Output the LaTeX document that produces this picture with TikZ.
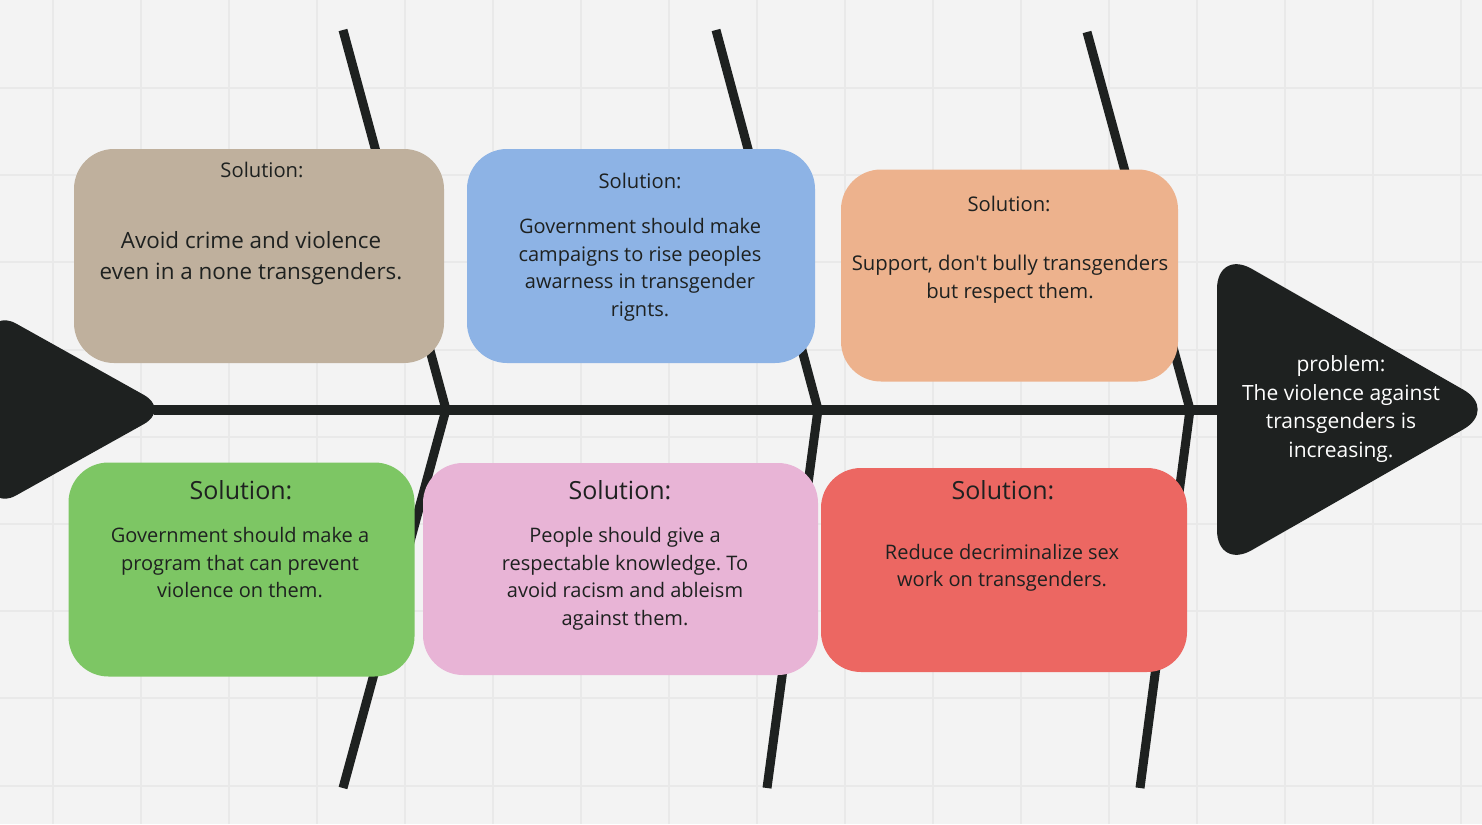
\documentclass[tikz,border=0pt]{standalone}
\usepackage{fontspec}
\setmainfont{Open Sans}
\usepackage{xcolor}
\frenchspacing
\definecolor{paper}{HTML}{F3F3F3}
\definecolor{gridline}{HTML}{E9E9E9}
\definecolor{ink}{HTML}{1E2120}
\definecolor{tanbox}{HTML}{BFB09D}
\definecolor{bluebox}{HTML}{8DB3E5}
\definecolor{peachbox}{HTML}{EDB28D}
\definecolor{greenbox}{HTML}{7DC664}
\definecolor{pinkbox}{HTML}{E8B4D6}
\definecolor{redbox}{HTML}{EC6762}

\begin{document}
\begin{tikzpicture}[x=0.5pt, y=-0.5pt,
  box/.style={rounded corners=20pt, inner sep=0pt},
  small/.style={font=\fontsize{10.1}{13}\selectfont, text=ink, align=center},
  big/.style={font=\fontsize{12.5}{15}\selectfont, text=ink, align=center},
  body/.style={font=\fontsize{10}{13.75}\selectfont, text=ink, align=center},
  bone/.style={draw=ink, line width=4.5pt}]
  \useasboundingbox[fill=paper] (0,0) rectangle (1482,824);
  \foreach \i in {0,...,16} \draw[gridline, line width=1pt] (53+88*\i,0) -- (53+88*\i,824);
  \foreach \j in {0,...,8} \draw[gridline, line width=1pt] (0,88+87.2*\j) -- (1482,88+87.2*\j);

  \coordinate (tail) at (154,409.5);
  \coordinate (head) at (1217,409.5);
  \coordinate (t1) at (343,30);
  \coordinate (j1) at (446,409.5);
  \coordinate (b1) at (343,788);
  \coordinate (t2) at (716,30);
  \coordinate (j2) at (818,409.5);
  \coordinate (b2) at (767,788);
  \coordinate (t3) at (1087,32);
  \coordinate (j3) at (1190,409.5);
  \coordinate (b3) at (1140,788);

  \fill[ink, rounded corners=15pt] (-10,309) -- (170,409.5) -- (-10,510) -- cycle;
  \fill[ink, rounded corners=20pt] (1217,249) -- (1498,409.5) -- (1217,570) -- cycle;

  \draw[bone, line width=5pt] (tail) -- (head);
  \draw[bone] (t1) -- (j1) -- (b1);
  \draw[bone] (t2) -- (j2) -- (b2);
  \draw[bone] (t3) -- (j3) -- (b3);

  \node[box, fill=tanbox, minimum width=185pt, minimum height=107pt] (s1) at (259,256) {};
  \node[box, fill=bluebox, minimum width=174pt, minimum height=107pt] (s2) at (641,256) {};
  \node[box, fill=peachbox, minimum width=168.5pt, minimum height=106pt] (s3) at (1009.5,275.5) {};
  \node[box, fill=greenbox, minimum width=173pt, minimum height=107pt] (s4) at (241.5,569.5) {};
  \node[box, fill=pinkbox, minimum width=197.5pt, minimum height=106pt] (s5) at (620.5,569) {};
  \node[box, fill=redbox, minimum width=183pt, minimum height=102pt] (s6) at (1004,570) {};

  \node[small] (h1) at (262,170) {Solution:};
  \node[small] (h2) at (640,181) {Solution:};
  \node[small] (h3) at (1009,204) {Solution:};
  \node[big] (h4) at (241,490) {Solution:};
  \node[big] (h5) at (620,490) {Solution:};
  \node[big] (h6) at (1003,490) {Solution:};

  \node[body, font=\fontsize{11.2}{15.5}\selectfont] (x1) at (251,258.5) {Avoid crime and violence\\even in a none transgenders.};
  \node[body] (x2) at (640,270) {Government should make\\campaigns to rise peoples\\awarness in transgender\\rignts.};
  \node[body, font=\fontsize{10.15}{13.75}\selectfont] (x3) at (1010,279) {Support, don\textquotesingle t bully transgenders\\but respect them.};
  \node[body] (x4) at (240,563) {Government should make a\\program that can prevent\\violence on them.};
  \node[body] (x5) at (625,579) {People should give a\\respectable knowledge. To\\avoid racism and ableism\\against them.};
  \node[body] (x6) at (1002,568) {Reduce decriminalize sex\\work on transgenders.};

  \node[body, text=white, font=\fontsize{10.5}{14.3}\selectfont] (p) at (1341,409) {problem:\\The violence against\\transgenders is\\increasing.};
\end{tikzpicture}
\end{document}
